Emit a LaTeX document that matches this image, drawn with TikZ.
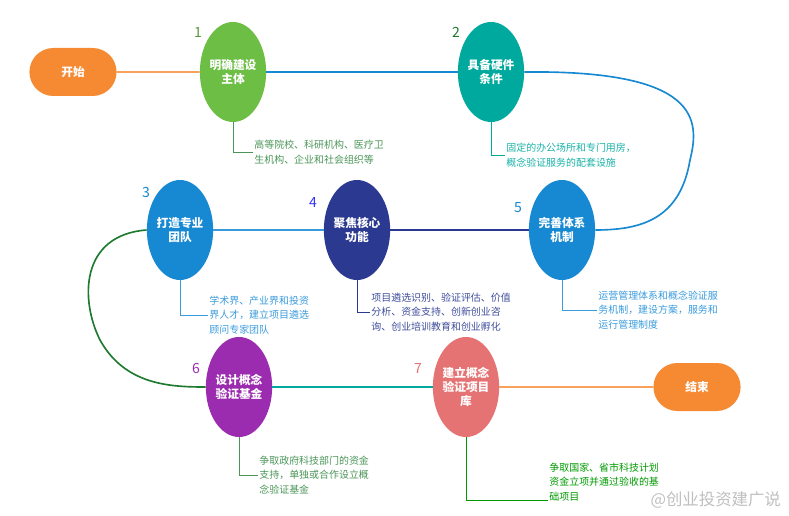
\documentclass[tikz,border=0pt]{standalone}
\usepackage{fontspec}
\setmainfont{Noto Sans CJK SC}
\usetikzlibrary{positioning, shapes.geometric, shapes.misc, calc}

\definecolor{cOrange}{HTML}{F58A33}
\definecolor{cGreen}{HTML}{6DBE45}
\definecolor{cTeal}{HTML}{00A99D}
\definecolor{cBlue}{HTML}{1689D2}
\definecolor{cNavy}{HTML}{2B3990}
\definecolor{cPurple}{HTML}{9B2BAF}
\definecolor{cSalmon}{HTML}{E57373}
\definecolor{cDkGreen}{HTML}{1E7A2E}
\definecolor{cLtBlue}{HTML}{3A9BDC}

\begin{document}
\begin{tikzpicture}[
    x=0.03cm, y=-0.03cm,
    stage/.style={ellipse, minimum width=66*0.03cm, minimum height=100*0.03cm,
                 text=white, font=\bfseries\fontsize{10}{12}\selectfont, align=center, inner sep=0pt},
    term/.style={rounded rectangle, minimum width=95*0.03cm, minimum height=48*0.03cm,
                 fill=cOrange, text=white, font=\bfseries\fontsize{10}{12}\selectfont},
    num/.style={font=\fontsize{12}{12}\selectfont},
    note/.style={anchor=west, align=left, font=\fontsize{8.5}{12.5}\selectfont, inner sep=1pt},
    link/.style={line width=1.4pt}
]
    \useasboundingbox (0,0) rectangle (789,516);

    % Terminals
    \node[term] (start) at (73,72) {开始};
    \node[term] (stop) at (697,387) {结束};

    % Stages
    \node[stage, fill=cGreen] (s1) at (233,72) {明确建设\\主体};
    \node[stage, fill=cTeal] (s2) at (491,72) {具备硬件\\条件};
    \node[stage, fill=cBlue] (s3) at (180,230) {打造专业\\团队};
    \node[stage, fill=cNavy] (s4) at (357,230) {聚焦核心\\功能};
    \node[stage, fill=cBlue] (s5) at (562,230) {完善体系\\机制};
    \node[stage, fill=cPurple] (s6) at (239,387) {设计概念\\验证基金};
    \node[stage, fill=cSalmon] (s7) at (466,387) {建立概念\\验证项目\\库};

    % Numbers
    \node[num, text=cGreen!80!black] (n1) at (198,32) {1};
    \node[num, text=cDkGreen] (n2) at (456,32) {2};
    \node[num, text=cBlue] (n3) at (146,192) {3};
    \node[num, text=blue!80] (n4) at (313,202) {4};
    \node[num, text=cBlue] (n5) at (518,208) {5};
    \node[num, text=cPurple] (n6) at (196,368) {6};
    \node[num, text=cSalmon] (n7) at (418,368) {7};

    % Main path
    \draw[link, cOrange!80] (start) -- (s1);
    \draw[link, cBlue] (s1) -- (s2);
    \draw[link, cBlue] (s2.east) .. controls (700,70) and (700,120) .. (690,160)
        .. controls (680,220) and (640,230) .. (s5.east);
    \draw[link, cNavy] (s4) -- (s5);
    \draw[link, cLtBlue] (s3) -- (s4);
    \draw[link, cDkGreen] (s3.west) .. controls (80,235) and (80,300) .. (100,340)
        .. controls (125,385) and (170,387) .. (s6.west);
    \draw[link, cTeal] (s6) -- (s7);
    \draw[link, cOrange!80] (s7) -- (stop);

    % Notes
    \node[note, text=cDkGreen!80] (t1) at (253,152) {高等院校、科研机构、医疗卫\\生机构、企业和社会组织等};
    \node[note, text=cTeal!90] (t2) at (505,155) {固定的办公场所和专门用房，\\概念验证服务的配套设施};
    \node[note, text=cLtBlue] (t3) at (208,315) {学术界、产业界和投资\\界人才，建立项目遴选\\顾问专家团队};
    \node[note, text=cNavy!90] (t4) at (370,312) {项目遴选识别、验证评估、价值\\分析、资金支持、创新创业咨\\询、创业培训教育和创业孵化};
    \node[note, text=cLtBlue] (t5) at (597,310) {运营管理体系和概念验证服\\务机制，建设方案，服务和\\运行管理制度};
    \node[note, text=cDkGreen!80] (t6) at (258,475) {争取政府科技部门的资金\\支持，单独或合作设立概\\念验证基金};
    \node[note, text=green!60!black] (t7) at (548,482) {争取国家、省市科技计划\\资金立项并通过验收的基\\础项目};

    % Callout lines
    \draw[thick, cDkGreen!80] (s1.south) |- (t1.west);
    \draw[thick, cTeal] (s2.south) |- (t2.west);
    \draw[thick, cLtBlue] (s3.south) |- (t3.west);
    \draw[thick, cNavy] (s4.south) |- (t4.west);
    \draw[thick, cLtBlue] (s5.south) |- (t5.west);
    \draw[thick, cDkGreen!80] (s6.south) |- (t6.west);
    \draw[thick, green!60!black] (s7.south) |- ($(t7.south west)+(0,-2)$);

    % Watermark
    \node[text=gray!50, font=\fontsize{14}{14}\selectfont, anchor=east] (wm) at (785,500) {@创业投资建广说};
\end{tikzpicture}
\end{document}
